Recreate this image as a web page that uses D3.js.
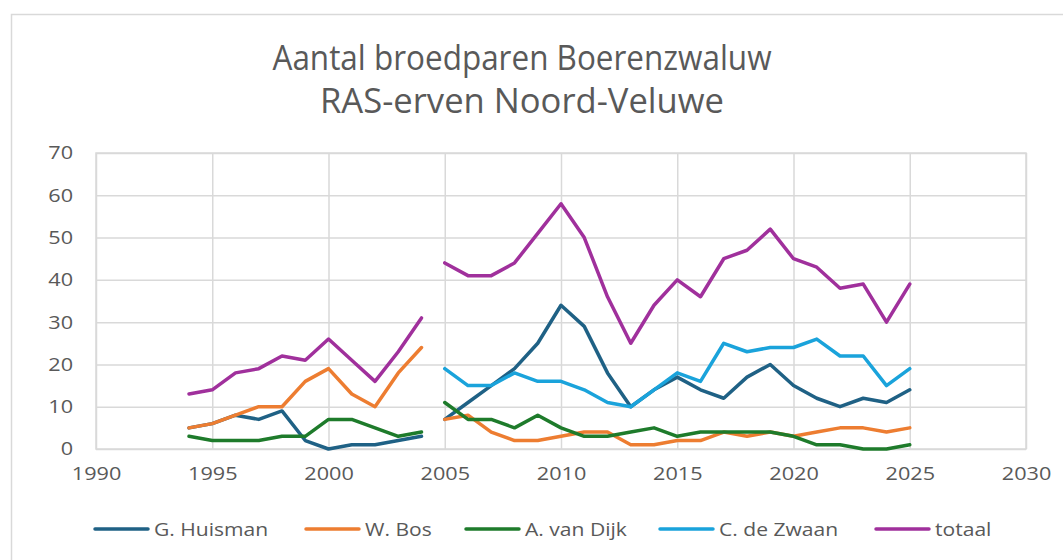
<!DOCTYPE html>
<html>
<head>
<meta charset="utf-8">
<script src="https://cdn.jsdelivr.net/npm/d3@7"></script>
<style>
  body { margin: 0; background: #fff; }
  svg text { font-family: "Open Sans", "DejaVu Sans", sans-serif; fill: #595959; }
</style>
</head>
<body>
<div id="vis"><svg></svg></div>
<script>
// data (gap between 2004 and 2005)
var years1 = [1994, 1995, 1996, 1997, 1998, 1999, 2000, 2001, 2002, 2003, 2004];
var years2 = [2005, 2006, 2007, 2008, 2009, 2010, 2011, 2012, 2013, 2014, 2015,
              2016, 2017, 2018, 2019, 2020, 2021, 2022, 2023, 2024, 2025];

var huisman1 = [5, 6, 8, 7, 9, 2, 0, 1, 1, 2, 3];
var huisman2 = [7, 11, 15, 19, 25, 34, 29, 18, 10, 14, 17, 14, 12, 17, 20, 15, 12, 10, 12, 11, 14];
var bos1 = [5, 6, 8, 10, 10, 16, 19, 13, 10, 18, 24];
var bos2 = [7, 8, 4, 2, 2, 3, 4, 4, 1, 1, 2, 2, 4, 3, 4, 3, 4, 5, 5, 4, 5];
var vanDijk1 = [3, 2, 2, 2, 3, 3, 7, 7, 5, 3, 4];
var vanDijk2 = [11, 7, 7, 5, 8, 5, 3, 3, 4, 5, 3, 4, 4, 4, 4, 3, 1, 1, 0, 0, 1];
var deZwaan2 = [19, 15, 15, 18, 16, 16, 14, 11, 10, 14, 18, 16, 25, 23, 24, 24, 26, 22, 22, 15, 19];
var totaal1 = [13, 14, 18, 19, 22, 21, 26, 21, 16, 23, 31];
var totaal2 = [44, 41, 41, 44, 51, 58, 50, 36, 25, 34, 40, 36, 45, 47, 52, 45, 43, 38, 39, 30, 39];

var seriesNames = ["G. Huisman", "W. Bos", "A. van Dijk", "C. de Zwaan", "totaal"];
var seriesColors = ["#1f6185", "#ed7d31", "#1e7b2b", "#1aa3db", "#a0309c"];
var xTicks = [1990, 1995, 2000, 2005, 2010, 2015, 2020, 2025, 2030];
var yTicks = [0, 10, 20, 30, 40, 50, 60, 70];
var titleLines = ["Aantal broedparen Boerenzwaluw", "RAS-erven Noord-Veluwe"];

var series = [
  {name: seriesNames[0], parts: [[years1, huisman1], [years2, huisman2]]},
  {name: seriesNames[1], parts: [[years1, bos1], [years2, bos2]]},
  {name: seriesNames[2], parts: [[years1, vanDijk1], [years2, vanDijk2]]},
  {name: seriesNames[3], parts: [[years2, deZwaan2]]},
  {name: seriesNames[4], parts: [[years1, totaal1], [years2, totaal2]]}
];

var W = 1063, H = 560;
var margin = {top: 153, right: 37, bottom: 111, left: 96},
    width = W - margin.left - margin.right,
    height = H - margin.top - margin.bottom;

var svg = d3.select("#vis").select("svg")
    .attr("width", W)
    .attr("height", H);

// chart border
svg.append("rect")
    .attr("x", 11.5).attr("y", 14.5)
    .attr("width", W + 10).attr("height", H)
    .attr("fill", "none")
    .attr("stroke", "#d9d9d9")
    .attr("stroke-width", 1.5);

// title
svg.selectAll(".title")
    .data(titleLines)
    .enter().append("text")
    .attr("class", "title")
    .attr("x", 522)
    .attr("y", function(d, i) { return 70 + i * 43; })
    .attr("text-anchor", "middle")
    .attr("font-size", "35px")
    .attr("textLength", function(d, i) { return i == 0 ? 499 : 404; })
    .attr("lengthAdjust", "spacingAndGlyphs")
    .text(function(d) { return d; });

var g = svg.append("g")
    .attr("transform", "translate(" + margin.left + "," + margin.top + ")");

var x = d3.scaleLinear().domain([1990, 2030]).range([0, width]);
var y = d3.scaleLinear().domain([0, 70]).range([height, 0]);

// gridlines
g.append("g")
    .attr("class", "grid-y")
    .call(d3.axisLeft(y).tickValues(yTicks).tickSize(-width).tickFormat(""))
    .call(function(s) { s.select(".domain").remove(); });
g.append("g")
    .attr("class", "grid-x")
    .attr("transform", "translate(0," + height + ")")
    .call(d3.axisBottom(x).tickValues(xTicks).tickSize(-height).tickFormat(""))
    .call(function(s) { s.select(".domain").remove(); });
g.selectAll(".grid-x line, .grid-y line")
    .attr("stroke", "#d9d9d9")
    .attr("stroke-width", 1.5);
g.append("rect")
    .attr("width", width).attr("height", height)
    .attr("fill", "none")
    .attr("stroke", "#d9d9d9")
    .attr("stroke-width", 1.5);

// axis labels
var yAxis = g.append("g")
    .call(d3.axisLeft(y).tickValues(yTicks).tickSize(0).tickPadding(23));
var xAxis = g.append("g")
    .attr("transform", "translate(0," + height + ")")
    .call(d3.axisBottom(x).tickValues(xTicks).tickFormat(d3.format("d")).tickSize(0).tickPadding(18));
[yAxis, xAxis].forEach(function(a) {
  a.select(".domain").remove();
  a.selectAll("text")
    .attr("font-size", "18.5px")
    .attr("font-family", null)
    .attr("fill", "#595959");
});

// lines
var line = d3.line()
    .x(function(d) { return x(d[0]); })
    .y(function(d) { return y(d[1]); });

series.forEach(function(s, i) {
  s.parts.forEach(function(p) {
    var pts = p[0].map(function(yr, k) { return [yr, p[1][k]]; });
    g.append("path")
        .attr("d", line(pts))
        .attr("fill", "none")
        .attr("stroke", seriesColors[i])
        .attr("stroke-width", 3.5)
        .attr("stroke-linejoin", "round")
        .attr("stroke-linecap", "round");
  });
});

// legend
var legendX = [95, 306, 466, 660, 876];
var legend = svg.selectAll(".legend")
    .data(seriesNames)
    .enter().append("g")
    .attr("class", "legend")
    .attr("transform", function(d, i) { return "translate(" + legendX[i] + ",529)"; });
legend.append("line")
    .attr("x1", 0).attr("x2", 53)
    .attr("stroke", function(d, i) { return seriesColors[i]; })
    .attr("stroke-width", 3.5)
    .attr("stroke-linecap", "round");
legend.append("text")
    .attr("class", "legend-text")
    .attr("x", 59)
    .attr("y", 7)
    .attr("font-size", "18px")
    .text(function(d) { return d; });

// reference text looks a bit stretched horizontally
svg.selectAll(".tick text, .legend-text").each(function() {
  var len = this.getComputedTextLength();
  d3.select(this)
    .attr("textLength", len * 1.17)
    .attr("lengthAdjust", "spacingAndGlyphs");
});
</script>
</body>
</html>
